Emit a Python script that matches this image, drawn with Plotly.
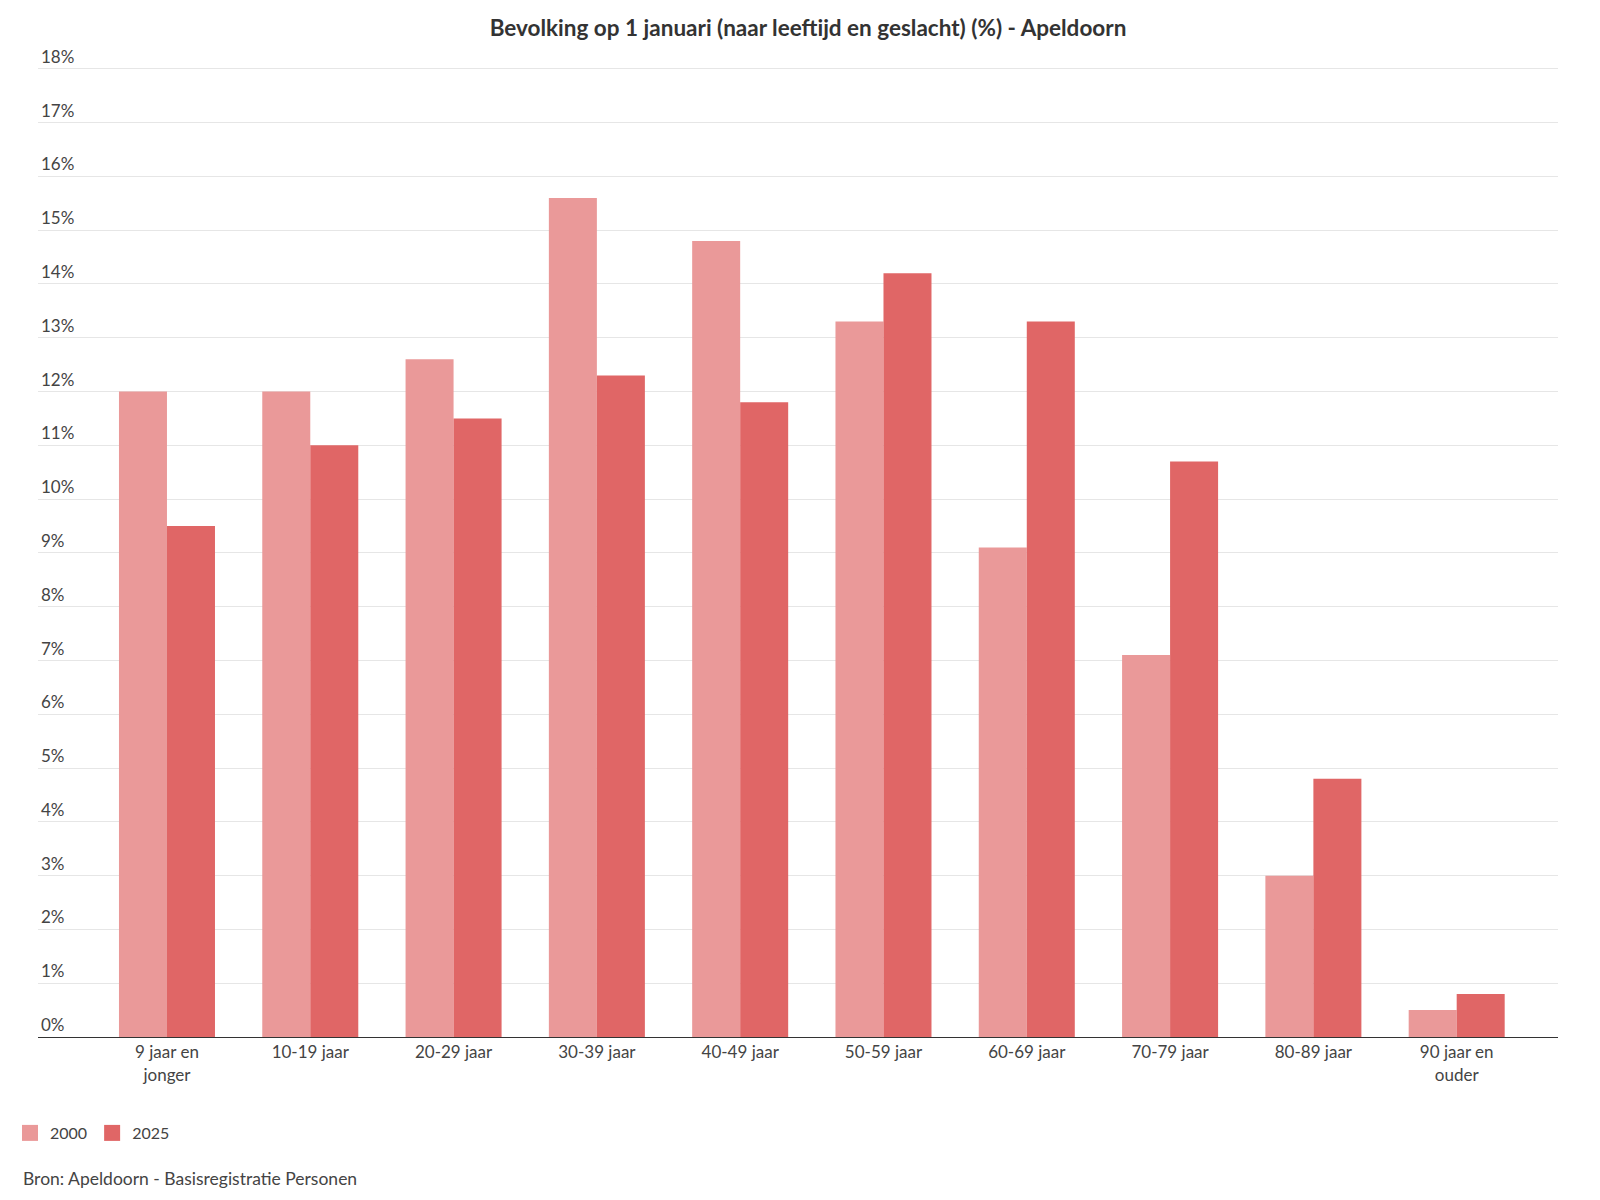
import plotly.graph_objects as go

categories = [
    "9 jaar en<br>jonger", "10-19 jaar", "20-29 jaar", "30-39 jaar", "40-49 jaar",
    "50-59 jaar", "60-69 jaar", "70-79 jaar", "80-89 jaar", "90 jaar en<br>ouder",
]
values_2000 = [12.0, 12.0, 12.6, 15.6, 14.8, 13.3, 9.1, 7.1, 3.0, 0.5]
values_2025 = [9.5, 11.0, 11.5, 12.3, 11.8, 14.2, 13.3, 10.7, 4.8, 0.8]
series_names = ["2000", "2025"]
series_colors = ["#ea9999", "#e06666"]
y_tick_values = list(range(0, 19))
y_tick_labels = [f"{v}%" for v in y_tick_values]

FONT = "Lato, 'Noto Sans', sans-serif"
TEXT = "#444444"

W, H = 1584, 1184
Y_TOP = 19.0
PX_PER_UNIT = (1028.7 - 60.3) / 18
T = round(60.3 - (Y_TOP - 18) * PX_PER_UNIT, 1)
L, R, B = 30, 34, 155.3

fig = go.Figure()
for name, vals, col in zip(series_names, [values_2000, values_2025], series_colors):
    fig.add_trace(go.Bar(name=name, x=categories, y=vals, showlegend=False,
                         marker=dict(color=col, line=dict(width=0))))
# legend entries
for name, col in zip(series_names, series_colors):
    fig.add_trace(go.Scatter(name=name, x=[None], y=[None], mode="markers",
                             marker=dict(symbol="square", size=16, color=col),
                             showlegend=True))

plot_h = H - T - B

fig.update_layout(
    width=W, height=H,
    margin=dict(l=L, r=R, t=T, b=B, pad=0),
    paper_bgcolor="white", plot_bgcolor="white",
    barmode="group", bargap=0.33, bargroupgap=0,
    font=dict(family=FONT, size=16, color=TEXT),
    title=dict(text="<b>Bevolking op 1 januari (naar leeftijd en geslacht) (%) - Apeldoorn</b>",
               x=800 / W, xanchor="center", y=1 - 20.5 / H, yanchor="middle",
               font=dict(family=FONT, size=22.5, color="#333333")),
    showlegend=True,
    legend=dict(orientation="h", xref="container", yref="container",
                x=2 / W, xanchor="left", y=1 - 1125 / H, yanchor="middle",
                font=dict(family=FONT, size=16, color=TEXT), itemsizing="trace",
                traceorder="normal", itemclick=False, itemdoubleclick=False),
    xaxis=dict(type="category", range=[-0.9, 9.707], showline=True,
               linecolor="#333333", linewidth=1, showgrid=False, ticks="",
               tickfont=dict(family=FONT, size=17, color=TEXT), fixedrange=True),
    yaxis=dict(range=[0, Y_TOP], tickvals=y_tick_values, ticktext=y_tick_labels,
               ticklabelposition="inside top", showgrid=True, gridcolor="#e6e6e6",
               gridwidth=1, zeroline=False, showline=False, ticks="",
               tickfont=dict(family=FONT, size=17, color=TEXT), fixedrange=True),
    annotations=[dict(text="Bron: Apeldoorn - Basisregistratie Personen",
                      xref="paper", yref="paper", x=(13 - L) / (W - L - R), xanchor="left",
                      y=-(1170 - (H - B)) / plot_h, yanchor="middle", showarrow=False,
                      font=dict(family=FONT, size=17.5, color=TEXT))],
)

fig.write_html("out.html")
